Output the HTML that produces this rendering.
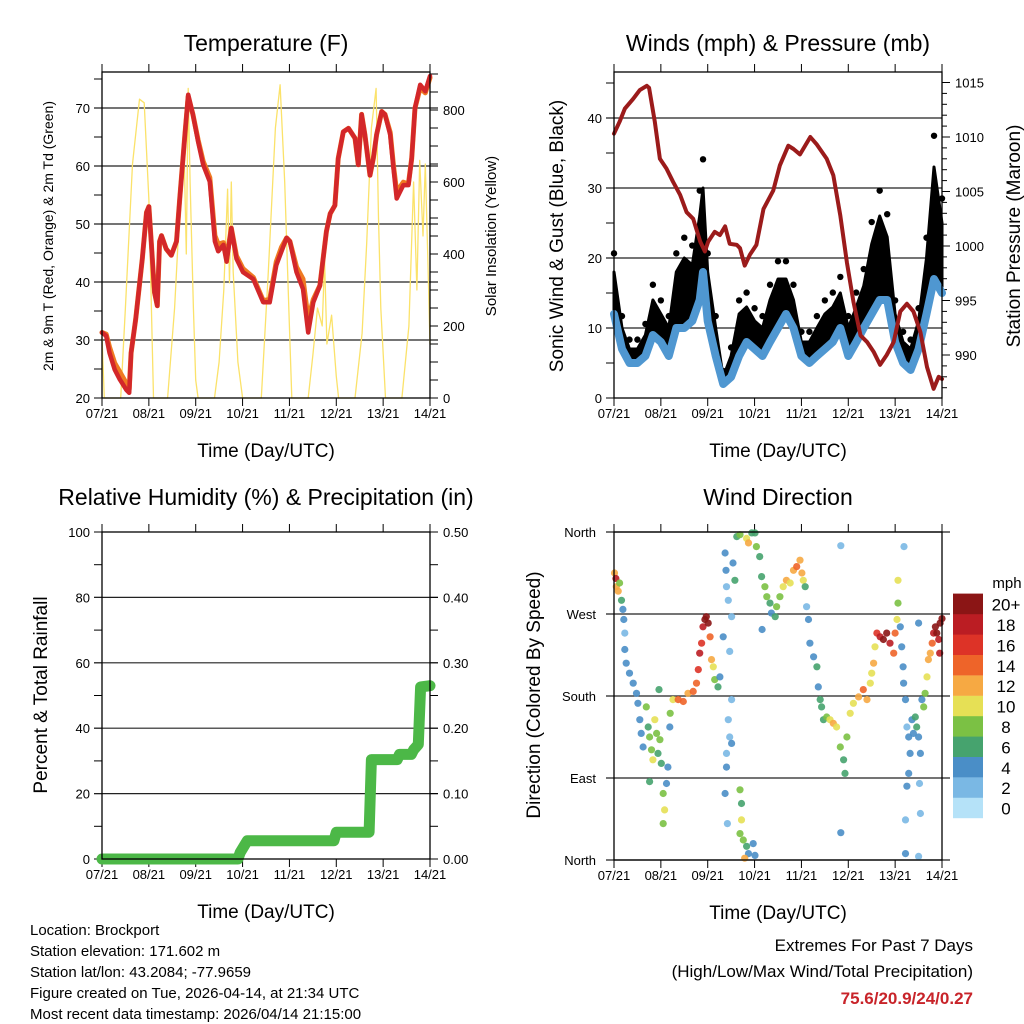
<!DOCTYPE html>
<html><head><meta charset="utf-8"><style>body{margin:0;background:#fff}svg{display:block;font-family:"Liberation Sans",sans-serif}</style></head>
<body>
<svg id="s" width="1024" height="1024" viewBox="0 0 1024 1024"></svg>
<script>
const days=["07/21","08/21","09/21","10/21","11/21","12/21","13/21","14/21"];
const tempT=[0,0.09,0.16,0.27,0.38,0.52,0.58,0.62,0.72,0.86,0.95,1.0,1.05,1.12,1.18,1.23,1.27,1.37,1.48,1.59,1.66,1.77,1.84,1.94,2.05,2.16,2.3,2.41,2.48,2.59,2.66,2.76,2.87,3.01,3.23,3.44,3.58,3.72,3.83,3.94,4.01,4.15,4.29,4.4,4.51,4.65,4.79,4.87,4.97,5.04,5.15,5.26,5.4,5.47,5.54,5.61,5.72,5.79,5.86,5.97,6.04,6.15,6.22,6.29,6.43,6.54,6.61,6.68,6.79,6.9,7.0];
const tempRed=[31.3,30.7,27.8,24.9,23.2,21.4,20.9,27.8,33.6,44,52,53,47,38.2,35.9,47,48,45.7,44.6,47,54.5,65.4,72.3,68.9,64.2,60.2,57.3,47,45.3,46.4,43.5,49.3,44,41.7,40.5,36.5,36.5,42.9,45.3,47.6,47,41.7,38.8,31.3,36.5,39.4,48.7,51.8,53.2,61.3,65.9,66.5,64.8,60.2,68.9,65.4,58.4,61.3,65.4,69.4,68.9,65.4,59.6,54.4,56.7,56.7,61.3,70,74,72.9,75.5];
const tempOrange=[31.3,31.0,28.8,26.0,24.5,22.5,21.5,27.8,33.6,44,52,53,47,38.2,35.9,47,48,45.7,44.6,47,54.5,65.4,72.0,68.9,64.5,60.8,58.0,48,46.5,46.8,44,49.3,44.5,42.3,40.8,36.8,37,43.5,46,47.6,47,42.6,40.5,33.5,37,39.4,48.7,51.8,53.2,61.3,65.9,66.5,64.8,60.2,68.9,65.4,58.4,61.3,65.4,69.4,68.9,65.8,60,55.5,57.2,56.9,61.3,70,73.5,72.6,75.2];
const solarT=[0,0.05,0.4,0.5,0.65,0.8,0.9,1.0,1.1,1.4,1.55,1.65,1.75,1.8,1.84,1.88,1.95,2.0,2.05,2.4,2.5,2.6,2.68,2.72,2.76,2.8,2.9,3.0,3.4,3.55,3.7,3.8,3.9,4.0,4.05,4.4,4.5,4.6,4.7,4.75,4.8,4.9,5.0,5.05,5.4,5.55,5.65,5.75,5.85,5.9,5.95,6.05,6.4,6.55,6.65,6.72,6.78,6.85,6.9,6.95,7.0];
const solarW=[170,0,0,250,650,830,820,550,0,0,250,500,700,400,860,600,250,50,0,0,100,300,580,320,600,350,100,0,0,350,750,870,600,200,0,0,120,250,200,380,150,230,60,0,0,180,430,750,860,500,250,0,0,200,600,300,660,450,650,400,150];
const presT=[0,0.12,0.23,0.41,0.55,0.7,0.75,0.87,0.98,1.12,1.26,1.41,1.55,1.69,1.84,1.94,2.01,2.15,2.26,2.37,2.47,2.62,2.69,2.79,2.9,3.04,3.19,3.4,3.54,3.72,3.83,3.97,4.19,4.33,4.54,4.68,4.83,4.97,5.11,5.26,5.4,5.54,5.68,5.82,5.97,6.11,6.25,6.39,6.54,6.68,6.82,6.93,7.0];
const presMb=[1010.3,1011.4,1012.6,1013.5,1014.3,1014.7,1014.5,1011.4,1008,1007.1,1005.9,1004.7,1003.1,1002.5,1000.4,999.5,1000.4,1001.3,1001,1001.8,1000.2,1000.1,999.8,998.2,999.2,1000.1,1003.4,1005.1,1007.4,1009.2,1008.9,1008.4,1010,1009.3,1008,1006.5,1002.8,998.5,994.9,991.8,991.2,990.3,989.1,990,991.2,994,994.7,994,992.1,988.9,986.9,988,987.8];
const windT=[0,0.17,0.33,0.5,0.67,0.83,1.0,1.17,1.33,1.5,1.67,1.83,1.9,2.0,2.17,2.33,2.5,2.67,2.83,3.0,3.17,3.33,3.5,3.67,3.83,4.0,4.17,4.33,4.5,4.67,4.83,5.0,5.17,5.33,5.5,5.67,5.83,6.0,6.17,6.33,6.5,6.67,6.83,7.0];
const sonic=[12,7,5,5,6,9,8,6,10,10,11,14,18,11,6,2,3,6,8,7,6,8,10,12,10,6,5,6,7,8,10,6,8,10,12,14,14,8,5,4,7,12,17,15];
const gust=[18,10,7,7,9,14,12,10,18,20,19,26,30,18,10,3,6,12,13,11,10,14,17,17,14,8,8,10,12,13,15,10,13,16,22,26,23,12,8,7,11,20,33,25];
const precipT=[0,2.9,2.95,3.1,4.95,5.0,5.7,5.75,6.3,6.35,6.6,6.65,6.75,6.8,7.0];
const precipIn=[0,0,0.01,0.028,0.028,0.041,0.041,0.152,0.152,0.16,0.16,0.167,0.175,0.263,0.265];
const dirT=[0.01,0.04,0.05,0.09,0.12,0.16,0.19,0.21,0.23,0.23,0.26,0.33,0.41,0.48,0.51,0.55,0.58,0.62,0.69,0.73,0.76,0.80,0.83,0.87,0.91,0.94,0.98,1.01,0.76,0.96,1.05,1.08,1.05,1.12,1.15,1.19,1.20,1.26,1.37,1.48,1.58,1.69,1.76,1.80,1.83,1.87,1.90,1.94,1.97,2.01,2.05,2.08,2.12,2.15,2.22,2.26,2.37,2.39,2.40,2.44,2.51,2.54,2.58,2.51,2.44,2.47,2.40,2.51,2.40,2.37,2.42,2.33,2.47,2.69,2.72,2.72,2.69,2.76,2.83,2.87,2.97,3.01,2.79,2.62,2.69,2.83,2.87,2.94,3.01,3.04,3.11,3.15,3.22,3.26,3.33,3.36,3.44,3.47,3.54,3.61,3.68,3.76,3.83,3.90,3.97,4.01,4.04,4.08,4.11,4.15,4.18,4.26,4.33,4.36,4.40,4.43,4.47,4.54,4.61,4.68,4.75,4.83,4.90,4.93,4.97,5.04,5.11,5.22,5.32,5.40,5.47,5.50,5.54,5.57,5.61,5.68,5.75,5.82,5.89,5.97,6.00,6.04,6.06,6.06,6.11,6.14,6.17,6.18,6.22,6.25,6.29,6.32,6.36,6.39,6.43,6.46,6.50,6.54,6.29,6.25,6.22,6.22,6.50,6.52,6.54,6.57,6.61,6.64,6.68,6.71,6.75,6.79,6.82,6.86,6.89,6.93,6.96,7.00,6.95,6.50,6.19,4.84,4.84,3.16];
const dirDeg=[315,309,300,295,304,285,275,264,249,231,216,205,194,183,172,154,139,124,168,146,135,121,110,154,139,117,132,106,86,187,73,55,40,84,102,146,161,176,176,174,183,185,194,209,227,238,256,264,267,260,245,220,212,198,190,201,337,318,300,285,267,326,307,176,154,135,117,128,102,73,40,245,229,77,62,44,29,22,15,7,18,5,2,355,357,353,348,359,359,344,333,311,300,289,282,271,267,278,289,300,307,304,318,322,329,315,307,300,278,264,238,223,212,190,176,168,154,157,154,150,146,124,110,95,135,161,172,179,187,176,194,205,216,234,249,245,242,249,238,227,249,264,282,307,256,234,212,194,176,146,135,117,154,139,157,146,135,117,95,81,44,7,4,84,51,176,168,183,201,220,227,238,249,256,249,242,260,265,227,260,344,345,30,253];
const dirSpd=[12,18,11,12,8,6,4,4,2,4,4,4,4,4,3,3,4,4,7,6,8,8,9,9,7,6,8,5,6,6,8,9,7,4,3,4,7,10,13,14,12,14,13,16,17,16,18,22,20,20,14,11,10,7,6,4,3,4,2,1,1,3,6,1,1,1,1,3,3,3,1,4,1,7,6,10,7,8,6,4,4,3,12,6,7,10,11,5,6,7,6,5,8,7,6,4,6,8,7,10,11,10,12,14,12,11,9,5,2,3,3,4,5,4,5,6,5,7,9,12,9,7,6,5,7,9,10,12,13,11,9,10,12,10,15,18,19,20,18,14,13,9,8,9,4,3,3,4,4,1,4,4,3,4,5,5,4,3,3,3,2,3,1,1,1,4,7,7,9,11,12,13,17,22,20,18,21,22,17,3,1,1,4,3];
const cbLabels=["0","2","4","6","8","10","12","14","16","18","20+"];
const cbColors=["#b5e2f8","#7ab8e4","#4a8ec7","#46a36e","#7bc144","#e6e055","#f6a943","#ee6429","#dd3327","#bb1d23","#8b1515"];

const NS="http://www.w3.org/2000/svg",S=document.getElementById('s');
function mk(tag,at,name,parent){const e=document.createElementNS(NS,tag);for(const k in at)e.setAttribute(k,at[k]);


(parent||S).appendChild(e);return e;}
function txt(x,y,s,size,name,opt){opt=opt||{};const e=mk('text',{x:x,y:y,'font-size':size,'text-anchor':opt.a||'middle',fill:opt.fill||'#000','font-weight':opt.w||'normal'},name);
if(opt.rot)e.setAttribute('transform','rotate(-90 '+x+' '+y+')');e.textContent=s;return e;}
function line(x1,y1,x2,y2,name,w,c){return mk('line',{x1:x1,y1:y1,x2:x2,y2:y2,stroke:c||'#000','stroke-width':w||1},name);}
function poly(xs,ys,fx,fy,name,c,w){let p=xs.map((t,i)=>fx(t).toFixed(1)+','+fy(ys[i]).toFixed(1)).join(' ');
return mk('polyline',{points:p,fill:'none',stroke:c,'stroke-width':w,'stroke-linejoin':'round','stroke-linecap':'round'},name);}

function panel(X0,X1,Y0,Y1,key){
  const fx=t=>X0+(X1-X0)*t/7;
  days.forEach((d,i)=>{const x=fx(i);line(x,Y1,x,Y1+8,key+'-x-tick');line(x,Y0,x,Y0-8,key+'-x-tick-top');txt(x,Y1+20,d,13,key+'-x-tick-label');});
  txt((X0+X1)/2,Y1+59,'Time (Day/UTC)',19,key+'-x-axis-title');
  return fx;
}
function frame(X0,X1,Y0,Y1,key){mk('rect',{x:X0,y:Y0,width:X1-X0,height:Y1-Y0,fill:'none',stroke:'#000','stroke-width':1.3},key+'-plot-frame');}

// ---- Panel 1: Temperature
{const X0=102,X1=430,Y0=72,Y1=398;const fx=panel(X0,X1,Y0,Y1,'temp');
 const fy=t=>Y1-(t-20)*5.8, fs=s=>Y1-s*0.36;
 for(let v=20;v<=75;v+=5){const y=fy(v);line(X0-8,y,X0,y,'temp-y-tick');if(v%10==0){txt(X0-12,y+5,String(v),13,'temp-y-tick-label',{a:'end'});if(v>20)line(X0-8,y,X1+8,y,'temp-gridline',1.2,'#222');}}
 for(let v=0;v<=900;v+=50){const y=fs(v);line(X1,y,X1+8,y,'solar-y-tick');if(v%200==0)txt(X1+13,y+5,String(v),13,'solar-y-tick-label',{a:'start'});}
 poly(solarT,solarW,fx,fs,'solar-insolation-line','#fbe26a',1.3);
 poly(tempT,tempOrange,fx,fy,'temp-9m-line','#ef7a22',5);
 poly(tempT,tempRed,fx,fy,'temp-2m-line','#d3272a',4.5);
 frame(X0,X1,Y0,Y1,'temp');
 txt(266,51,'Temperature (F)',23,'temp-title');
 txt(53,236,'2m & 9m T (Red, Orange) & 2m Td (Green)',14,'temp-y-axis-title',{rot:1});
 txt(496,236,'Solar Insolation (Yellow)',15,'solar-y-axis-title',{rot:1});
}
// ---- Panel 2: Winds & Pressure
{const X0=614,X1=942,Y0=72,Y1=398;const fx=panel(X0,X1,Y0,Y1,'wind');
 const fy=w=>Y1-w*7, fp=p=>355-(p-990)*10.9;
 for(let v=0;v<=45;v+=5){const y=fy(v);line(X0-8,y,X0,y,'wind-y-tick');if(v%10==0){txt(X0-12,y+5,String(v),13,'wind-y-tick-label',{a:'end'});if(v>0)line(X0-8,y,X1,y,'wind-gridline',1.2,'#222');}}
 for(let v=987;v<=1015;v++){const y=fp(v);line(X1,y,X1+(v%5==0?8:5),y,'pressure-y-tick');if(v%5==0)txt(X1+13,y+5,String(v),13,'pressure-y-tick-label',{a:'start'});}
 let up=windT.map((t,i)=>fx(t).toFixed(1)+','+fy(gust[i]).toFixed(1));
 let lo=windT.map((t,i)=>fx(t).toFixed(1)+','+fy(sonic[i]).toFixed(1)).reverse();
 mk('polygon',{points:up.concat(lo).join(' '),fill:'#000','stroke':'#000','stroke-width':3,'stroke-linejoin':'round'},'gust-band');
 windT.forEach((t,i)=>{mk('circle',{cx:fx(t),cy:fy(gust[i]*1.12+0.5),r:3.2,fill:'#000'},'gust-point');});
 poly(windT,sonic,fx,fy,'sonic-wind-line','#4f97d1',8);
 poly(presT,presMb,fx,fp,'pressure-line','#9b1b1b',4);
 frame(X0,X1,Y0,Y1,'wind');
 txt(778,51,'Winds (mph) & Pressure (mb)',23,'wind-title');
 txt(563,236,'Sonic Wind & Gust (Blue, Black)',19,'wind-y-axis-title',{rot:1});
 txt(1020,236,'Station Pressure (Maroon)',19,'pressure-y-axis-title',{rot:1});
}
// ---- Panel 3: RH & precip
{const X0=102,X1=430,Y0=532,Y1=859;const fx=panel(X0,X1,Y0,Y1,'rh');
 const fy=v=>Y1-v*3.27, fq=v=>Y1-v*654;
 for(let v=0;v<=100;v+=10){const y=fy(v);line(X0-8,y,X0,y,'rh-y-tick');if(v%20==0){txt(X0-12,y+5,String(v),13,'rh-y-tick-label',{a:'end'});if(v>0&&v<100)line(X0-8,y,X1+8,y,'rh-gridline',1.2,'#222');}}
 for(let k=0;k<=10;k++){const v=k*0.05,y=fq(v);line(X1,y,X1+8,y,'precip-y-tick');if(k%2==0)txt(X1+13,y+5,v.toFixed(2),13,'precip-y-tick-label',{a:'start'});}
 poly(precipT,precipIn,fx,fq,'precip-line','#4cb847',11);
 frame(X0,X1,Y0,Y1,'rh');
 txt(266,505,'Relative Humidity (%) & Precipitation (in)',23,'rh-title');
 txt(47,695,'Percent & Total Rainfall',19,'rh-y-axis-title',{rot:1});
}
// ---- Panel 4: Wind direction
{const X0=614,X1=942,Y0=532,Y1=860;const fx=panel(X0,X1,Y0,Y1,'dir');
 const fy=d=>Y1-d*328/360;
 ['North','East','South','West','North'].forEach((n,i)=>{const y=fy(i*90);line(X0-8,y,X1+8,y,'dir-gridline',1.2,'#222');txt(X0-18,y+5,n,13,'dir-y-tick-label',{a:'end'});});
 dirT.forEach((t,i)=>{const c=cbColors[Math.min(10,Math.round(dirSpd[i]/2))];
   mk('circle',{cx:fx(t).toFixed(1),cy:fy(dirDeg[i]).toFixed(1),r:3.6,fill:c,'fill-opacity':0.9},'direction-point');});
 frame(X0,X1,Y0,Y1,'dir');
 txt(778,505,'Wind Direction',23,'dir-title');
 txt(540,695,'Direction (Colored By Speed)',19,'dir-y-axis-title',{rot:1});
 const g=mk('g',{},'speed-colorbar');
 cbColors.forEach((c,i)=>{const y=818-(i+1)*20.4;mk('rect',{x:953,y:y,width:30,height:20.6,fill:c},'colorbar-swatch',g);txt(1006,y+17,cbLabels[i],17,'colorbar-label');});
 txt(1007,588,'mph',15,'colorbar-title');
}
// ---- Info text
['Location: Brockport','Station elevation: 171.602 m','Station lat/lon: 43.2084; -77.9659','Figure created on Tue, 2026-04-14, at 21:34 UTC','Most recent data timestamp: 2026/04/14 21:15:00'].forEach((s,i)=>txt(30,935+i*21,s,15,'station-info-line',{a:'start'}));
txt(973,951,'Extremes For Past 7 Days',17,'extremes-title',{a:'end'});
txt(973,977,'(High/Low/Max Wind/Total Precipitation)',17,'extremes-subtitle',{a:'end'});
txt(973,1004,'75.6/20.9/24/0.27',17,'extremes-values',{a:'end',fill:'#c8242a',w:'bold'});
</script>
</body></html>
